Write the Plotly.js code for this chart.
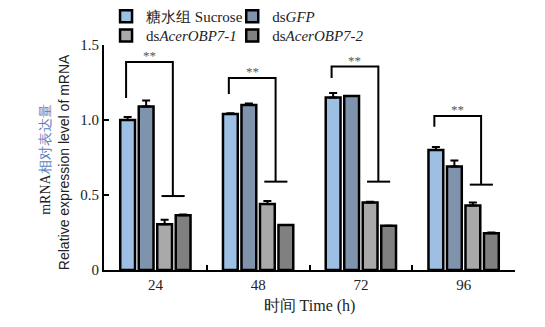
<!DOCTYPE html>
<html>
<head>
<meta charset="utf-8">
<script src="https://cdn.plot.ly/plotly-3.0.1.min.js"></script>
<style>html,body{margin:0;padding:0;background:#fff}#chart{width:545px;height:327px}</style>
</head>
<body>
<div id="chart"></div>
<script>
// ---- data ----
const categories = ['24', '48', '72', '96'];
const seriesNames = ['糖水组 Sucrose', 'ds<i>GFP</i>', 'ds<i>AcerOBP7-1</i>', 'ds<i>AcerOBP7-2</i>'];
const sucrose = [1.00, 1.04, 1.15, 0.80];
const sucroseErr = [0.02, 0.005, 0.03, 0.02];
const dsGFP = [1.09, 1.10, 1.16, 0.69];
const dsGFPErr = [0.04, 0.01, 0.0, 0.04];
const dsOBP71 = [0.305, 0.44, 0.45, 0.43];
const dsOBP71Err = [0.03, 0.02, 0.005, 0.02];
const dsOBP72 = [0.365, 0.30, 0.295, 0.245];
const dsOBP72Err = [0.005, 0.0, 0.0, 0.005];
// significance brackets
const sigLabel = ['**', '**', '**', '**'];
const sigTop = [1.387, 1.28, 1.356, 1.027];
const sigLeftBottom = [1.147, 1.173, 1.28, 0.955];
const sigRightBottom = [0.493, 0.589, 0.589, 0.569];
const yTickVals = [0, 0.5, 1.0, 1.5];
const yTickText = ['0', '0.5', '1.0', '1.5'];

const colors = ['#9dbfe3', '#8093ad', '#a9a9a9', '#808080'];
const values = [sucrose, dsGFP, dsOBP71, dsOBP72];
const errs = [sucroseErr, dsGFPErr, dsOBP71Err, dsOBP72Err];
const legendIds = ['legend', 'legend2', 'legend3', 'legend4'];

const serif = 'Liberation Serif, Times New Roman, serif';

const traces = values.map((v, i) => ({
  type: 'bar',
  name: seriesNames[i],
  x: categories,
  y: v,
  legend: legendIds[i],
  marker: {color: colors[i], line: {color: '#000', width: 2.5}},
  error_y: {type: 'data', array: errs[i], arrayminus: errs[i].map(() => 0), symmetric: false,
            color: '#000', thickness: 2, width: 4}
}));

const shapes = [];
const annotations = [];
const L = -0.285, R = 0.17, B0 = 0.06, B1 = 0.285;
categories.forEach((c, i) => {
  const line = {color: '#000', width: 2};
  shapes.push({type: 'path', xref: 'x', yref: 'y', line: line,
    path: `M${i + L},${sigLeftBottom[i]} L${i + L},${sigTop[i]} L${i + R},${sigTop[i]} L${i + R},${sigRightBottom[i]}`});
  shapes.push({type: 'line', xref: 'x', yref: 'y', line: line,
    x0: i + B0, x1: i + B1, y0: sigRightBottom[i], y1: sigRightBottom[i]});
  annotations.push({xref: 'x', yref: 'y', x: i + (L + R) / 2, y: sigTop[i], text: sigLabel[i],
    showarrow: false, yanchor: 'bottom', yshift: -3, font: {family: serif, size: 13, color: '#555'}});
});

annotations.push({xref: 'paper', yref: 'paper', x: -0.141, y: 0.49, xanchor: 'center', yanchor: 'middle',
  textangle: -90, showarrow: false,
  text: '<span style="color:#222">mRNA</span><span style="color:#5b80bf">相对表达量</span>',
  font: {family: serif, size: 14, color: '#222'}});
annotations.push({xref: 'paper', yref: 'paper', x: -0.097, y: 0.48, xanchor: 'center', yanchor: 'middle',
  textangle: -90, showarrow: false,
  text: 'Relative expression level of mRNA',
  font: {family: 'Liberation Sans, Arial, sans-serif', size: 14, color: '#222'}});

const legendCommon = {orientation: 'h', xanchor: 'left', yanchor: 'top',
  font: {family: serif, size: 15, color: '#222'}, bgcolor: 'rgba(0,0,0,0)', itemwidth: 30};
const legX = [0.005, 0.312];
const legY = [1.2, 1.115];

const layout = {
  width: 545, height: 327,
  margin: {l: 104, r: 30, t: 45, b: 57, autoexpand: false},
  paper_bgcolor: '#fff', plot_bgcolor: '#fff',
  barmode: 'group', bargap: 0.28, bargroupgap: 0.2,
  showlegend: true,
  legend: Object.assign({}, legendCommon, {x: legX[0], y: legY[0]}),
  legend2: Object.assign({}, legendCommon, {x: legX[1], y: legY[0]}),
  legend3: Object.assign({}, legendCommon, {x: legX[0], y: legY[1]}),
  legend4: Object.assign({}, legendCommon, {x: legX[1], y: legY[1]}),
  xaxis: {type: 'category', range: [-0.5, 3.5], showline: true, linecolor: '#000', linewidth: 2,
    ticks: 'inside', tickson: 'boundaries', ticklen: 5, tickwidth: 2, tickcolor: '#000',
    showgrid: false, zeroline: false, fixedrange: true,
    tickfont: {family: serif, size: 15, color: '#222'},
    title: {text: '时间 Time (h)', font: {family: serif, size: 16, color: '#222'}, standoff: 8}},
  yaxis: {range: [0, 1.5], showline: true, linecolor: '#000', linewidth: 2,
    ticks: 'inside', ticklen: 5, tickwidth: 2, tickcolor: '#000',
    tickvals: yTickVals, ticktext: yTickText, showgrid: false, zeroline: false,
    tickfont: {family: serif, size: 15, color: '#222'}},
  shapes: shapes,
  annotations: annotations,
  font: {family: serif}
};

Plotly.newPlot('chart', traces, layout, {staticPlot: true, displayModeBar: false});
</script>
</body>
</html>
